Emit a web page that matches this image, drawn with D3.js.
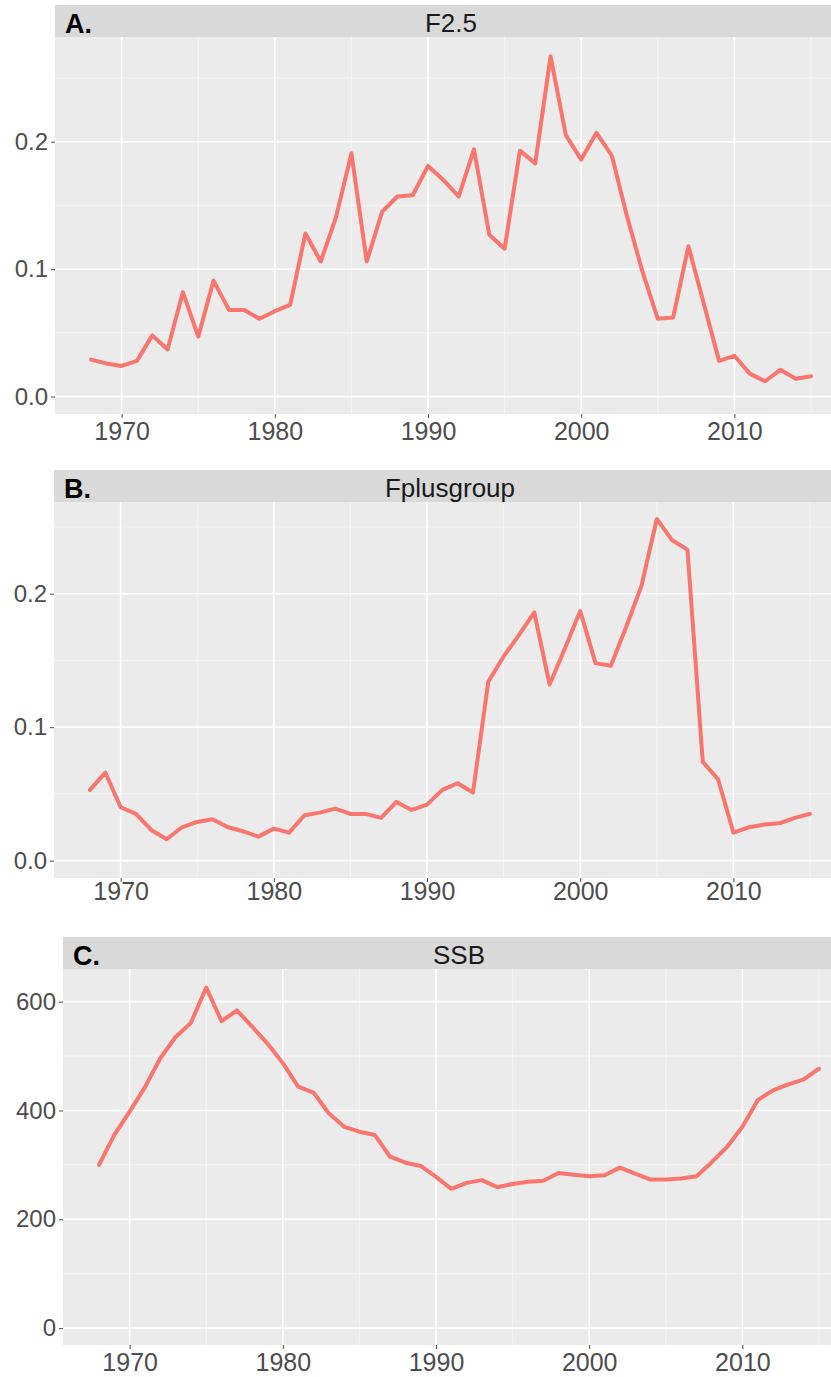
<!DOCTYPE html>
<html>
<head>
<meta charset="utf-8">
<script src="https://cdn.jsdelivr.net/npm/d3@7"></script>
<style>
  html, body { margin: 0; padding: 0; background: #fff; }
  svg { display: block; }
</style>
</head>
<body>
<svg id="chart" width="831" height="1377"></svg>
<script>
const years = d3.range(1968, 2016);
const f25 = [0.029, 0.026, 0.024, 0.028, 0.048, 0.037, 0.082, 0.047, 0.091, 0.068,
             0.068, 0.061, 0.067, 0.072, 0.128, 0.106, 0.141, 0.191, 0.106, 0.145,
             0.157, 0.158, 0.181, 0.170, 0.157, 0.194, 0.127, 0.116, 0.193, 0.183,
             0.267, 0.205, 0.186, 0.207, 0.189, 0.141, 0.098, 0.061, 0.062, 0.118,
             0.073, 0.028, 0.032, 0.018, 0.012, 0.021, 0.014, 0.016];
const fplus = [0.053, 0.066, 0.040, 0.035, 0.023, 0.016, 0.025, 0.029, 0.031, 0.025,
               0.022, 0.018, 0.024, 0.021, 0.034, 0.036, 0.039, 0.035, 0.035, 0.032,
               0.044, 0.038, 0.042, 0.053, 0.058, 0.051, 0.134, 0.153, 0.169, 0.186,
               0.132, 0.159, 0.187, 0.148, 0.146, 0.175, 0.206, 0.256, 0.240, 0.233,
               0.074, 0.061, 0.021, 0.025, 0.027, 0.028, 0.032, 0.035];
const ssb = [300, 355, 398, 443, 496, 535, 561, 626, 564, 584,
             554, 523, 487, 444, 433, 395, 370, 361, 355, 315,
             304, 298, 278, 256, 267, 272, 259, 265, 269, 271,
             285, 282, 279, 281, 295, 284, 273, 273, 275, 279,
             305, 333, 370, 419, 437, 448, 457, 477];

const xTicks = [1970, 1980, 1990, 2000, 2010];
const xMinor = [1975, 1985, 1995, 2005, 2015];
const fTicks = [0.0, 0.1, 0.2];
const fMinor = [0.05, 0.15, 0.25];
const ssbTicks = [0, 200, 400, 600];
const ssbMinor = [100, 300, 500];

const panels = [
  { tag: "A.", title: "F2.5", values: f25, yTicks: fTicks, yMinor: fMinor, fmt: d3.format(".1f"),
    left: 55, top: 5, stripH: 32, bottom: 414, yDomain: [-0.0137, 0.2822], labelY: 440 },
  { tag: "B.", title: "Fplusgroup", values: fplus, yTicks: fTicks, yMinor: fMinor, fmt: d3.format(".1f"),
    left: 54, top: 470, stripH: 32, bottom: 878, yDomain: [-0.0130, 0.2687], labelY: 900 },
  { tag: "C.", title: "SSB", values: ssb, yTicks: ssbTicks, yMinor: ssbMinor, fmt: d3.format("d"),
    left: 63, top: 937, stripH: 32, bottom: 1345, yDomain: [-31, 660], labelY: 1371 }
];

const svg = d3.select("#chart");
const xDomain = [1965.65, 2017.35];
const panelW = 792;
const font = "Liberation Sans, Arial, sans-serif";

panels.forEach(p => {
  const g = svg.append("g");
  const pTop = p.top + p.stripH;
  const x = d3.scaleLinear().domain(xDomain).range([p.left, p.left + panelW]);
  const y = d3.scaleLinear().domain(p.yDomain).range([p.bottom, pTop]);

  // strip
  g.append("rect").attr("x", p.left).attr("y", p.top).attr("width", panelW).attr("height", p.stripH)
    .attr("fill", "#D9D9D9");
  g.append("text").attr("x", p.left + panelW / 2).attr("y", p.top + p.stripH - 5)
    .attr("text-anchor", "middle").attr("font-family", font)
    .attr("font-size", 26).attr("fill", "#1A1A1A").text(p.title);
  g.append("text").attr("x", p.left + 10).attr("y", p.top + p.stripH - 4)
    .attr("font-family", font).attr("font-weight", "bold")
    .attr("font-size", 27).attr("fill", "#000").text(p.tag);

  // panel bg
  g.append("rect").attr("x", p.left).attr("y", pTop).attr("width", panelW).attr("height", p.bottom - pTop)
    .attr("fill", "#EBEBEB");

  // minor grid
  g.selectAll(".ymin").data(p.yMinor).join("line")
    .attr("x1", p.left).attr("x2", p.left + panelW)
    .attr("y1", d => y(d)).attr("y2", d => y(d))
    .attr("stroke", "#F5F5F5").attr("stroke-width", 1);
  g.selectAll(".xmin").data(xMinor).join("line")
    .attr("y1", pTop).attr("y2", p.bottom)
    .attr("x1", d => x(d)).attr("x2", d => x(d))
    .attr("stroke", "#F5F5F5").attr("stroke-width", 1);
  // major grid
  g.selectAll(".ymaj").data(p.yTicks).join("line")
    .attr("x1", p.left).attr("x2", p.left + panelW)
    .attr("y1", d => y(d)).attr("y2", d => y(d))
    .attr("stroke", "#FFFFFF").attr("stroke-width", 1.6);
  g.selectAll(".xmaj").data(xTicks).join("line")
    .attr("y1", pTop).attr("y2", p.bottom)
    .attr("x1", d => x(d)).attr("x2", d => x(d))
    .attr("stroke", "#FFFFFF").attr("stroke-width", 1.6);

  // y axis
  const yAxis = d3.axisLeft(y).tickValues(p.yTicks).tickFormat(p.fmt).tickSize(4).tickPadding(3);
  const ya = g.append("g").attr("transform", `translate(${p.left},0)`).call(yAxis);
  ya.select(".domain").remove();
  ya.selectAll(".tick line").attr("stroke", "#4D4D4D").attr("stroke-width", 1);
  ya.selectAll(".tick text").attr("fill", "#4D4D4D").attr("font-size", 24)
    .attr("font-family", font);

  // x axis
  const xAxis = d3.axisBottom(x).tickValues(xTicks).tickFormat(d3.format("d")).tickSize(4).tickPadding(4);
  const xa = g.append("g").attr("transform", `translate(0,${p.bottom})`).call(xAxis);
  xa.select(".domain").remove();
  xa.selectAll(".tick line").attr("stroke", "#4D4D4D").attr("stroke-width", 1);
  xa.selectAll(".tick text").attr("fill", "#4D4D4D").attr("font-size", 25)
    .attr("font-family", font)
    .attr("dy", null).attr("y", p.labelY - p.bottom);

  // line
  const line = d3.line().x((d, i) => x(years[i])).y(d => y(d));
  g.append("path").datum(p.values).attr("d", line)
    .attr("fill", "none").attr("stroke", "#F8766D").attr("stroke-width", 4)
    .attr("stroke-linejoin", "round").attr("stroke-linecap", "round");
});
</script>
</body>
</html>
